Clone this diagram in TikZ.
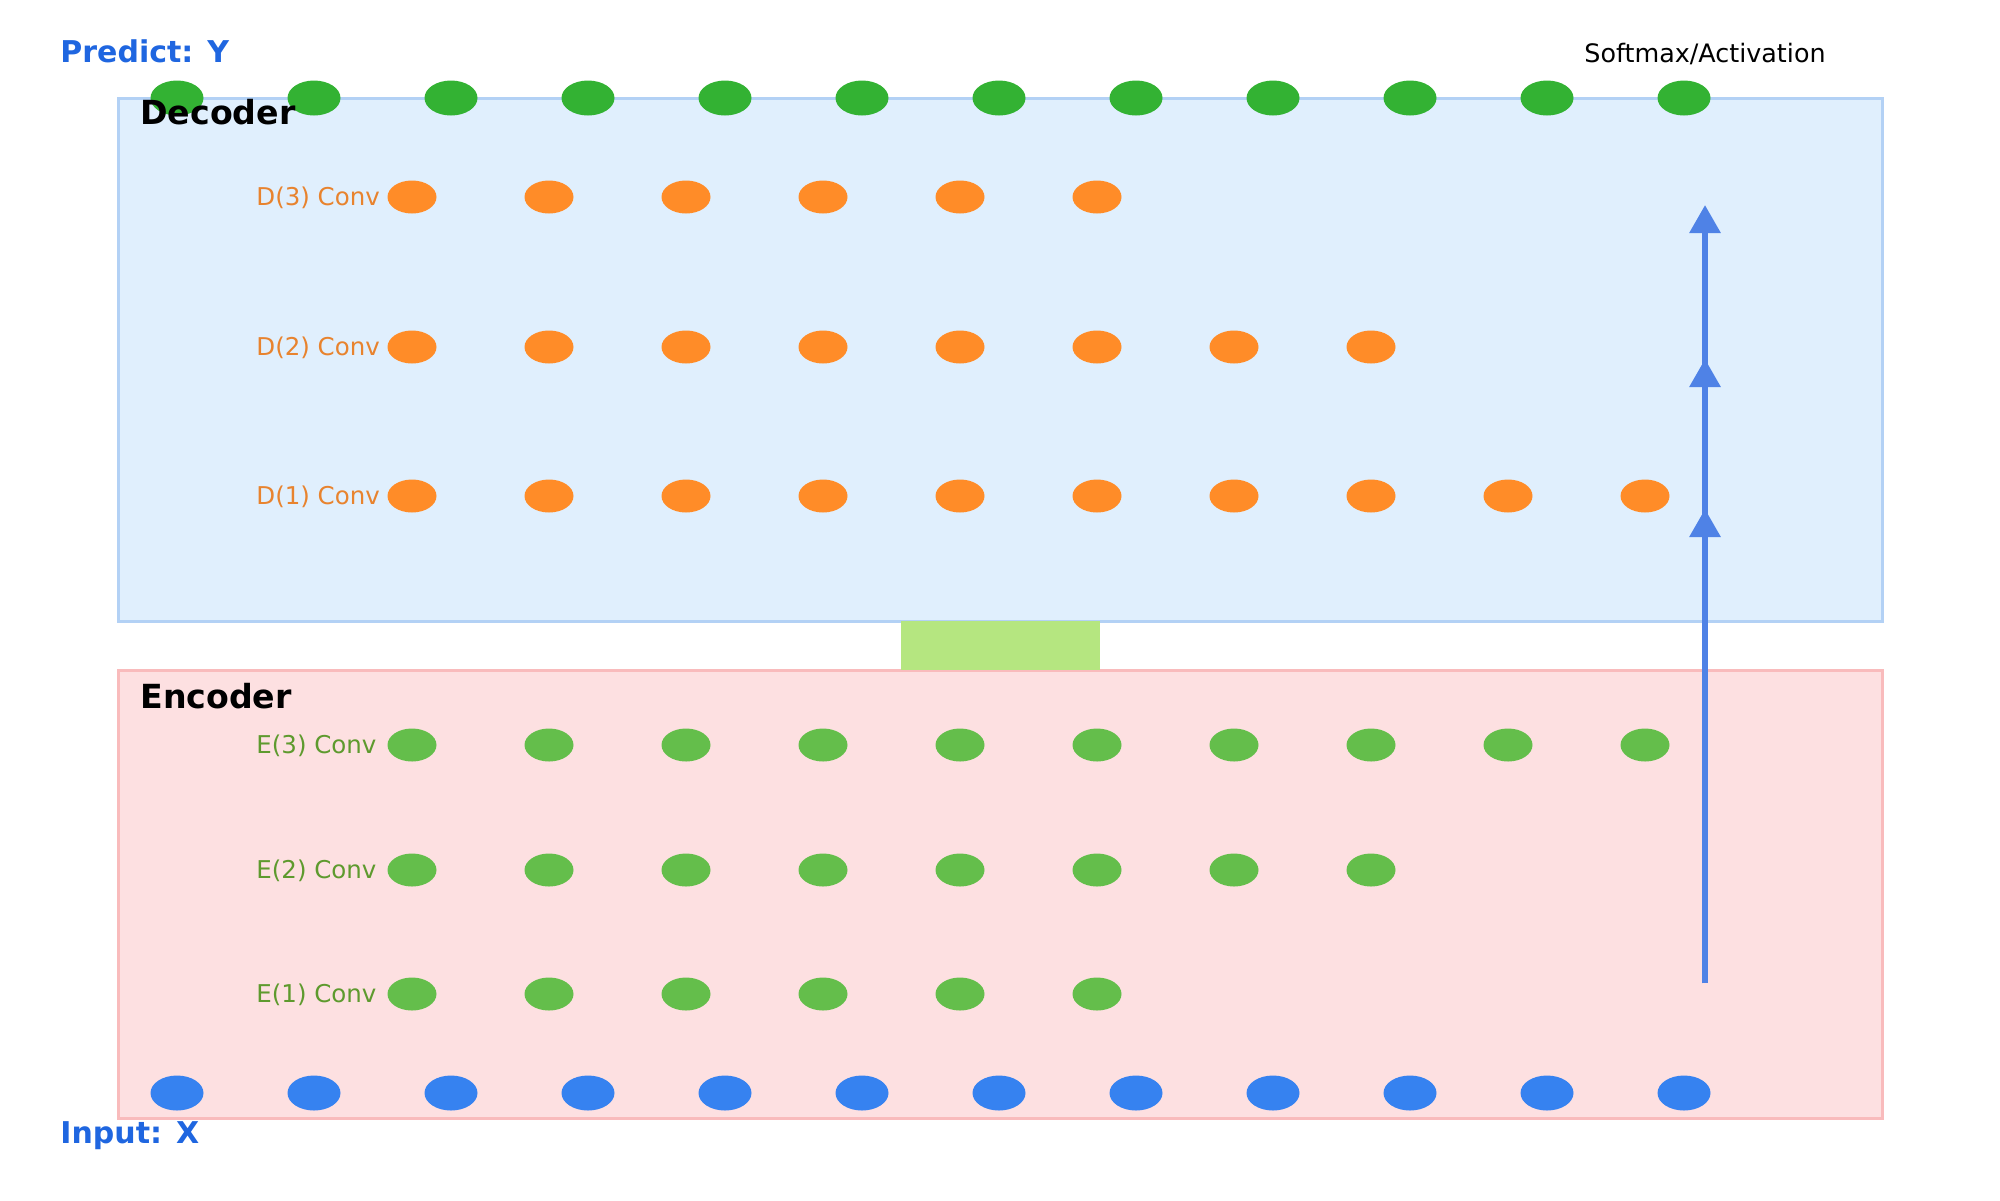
\documentclass[tikz,border=0pt]{standalone}
\usepackage{fontspec}
\setmainfont{DejaVu Sans}
\usetikzlibrary{shapes.geometric,arrows.meta}
\definecolor{decfill}{HTML}{E0EFFD}
\definecolor{decline}{HTML}{B3D1F5}
\definecolor{encfill}{HTML}{FDE0E1}
\definecolor{encline}{HTML}{F9BBBC}
\definecolor{bridge}{HTML}{B5E680}
\definecolor{topgreen}{HTML}{33B233}
\definecolor{inblue}{HTML}{3682F0}
\definecolor{dorange}{HTML}{FF8C28}
\definecolor{dlabel}{HTML}{E8832E}
\definecolor{egreen}{HTML}{64BE4B}
\definecolor{elabel}{HTML}{5E9A2E}
\definecolor{titleblue}{HTML}{1F66E0}
\definecolor{arrowblue}{HTML}{4F82E6}
\tikzset{
  bigdot/.style={ellipse,inner sep=0pt,minimum width=26.5pt,minimum height=17.5pt,draw=none},
  smalldot/.style={ellipse,inner sep=0pt,minimum width=24.5pt,minimum height=16.5pt,draw=none},
  rowlabel/.style={anchor=base west,inner sep=0pt,font=\fontsize{12.25pt}{14pt}\selectfont},
  sectitle/.style={anchor=base west,inner sep=0pt,font=\fontsize{16.6pt}{20pt}\selectfont\bfseries},
  iotitle/.style={anchor=base west,inner sep=0pt,text=titleblue,font=\fontsize{15pt}{18pt}\selectfont\bfseries},
  flow/.style={arrowblue,line width=3pt,-{Triangle[width=15pt,length=14pt]}}
}
\begin{document}
\begin{tikzpicture}[x=0.5pt,y=-0.5pt]
\useasboundingbox (0,0) rectangle (2000,1200);
% boxes
\filldraw[draw=decline,fill=decfill,line width=1.5pt] (118,98) rectangle (1882,621);
\filldraw[draw=encline,fill=encfill,line width=1.5pt] (118,670) rectangle (1882,1118);
\fill[bridge] (901,621) rectangle (1100,670);
% titles
\node[iotitle] (predict) at (60,62) {Predict: Y};
\node[iotitle] (input) at (60,1143) {Input: X};
\node[anchor=base,inner sep=0pt,font=\fontsize{12.7pt}{15pt}\selectfont] (softmax) at (1705,62) {Softmax/Activation};
% row labels
\node[rowlabel,text=dlabel] (ld3) at (256,205.5) {D(3) Conv};
\node[rowlabel,text=dlabel] (ld2) at (256,355.5) {D(2) Conv};
\node[rowlabel,text=dlabel] (ld1) at (256,504.5) {D(1) Conv};
\node[rowlabel,text=elabel] (le3) at (256,753.5) {E(3) Conv};
\node[rowlabel,text=elabel] (le2) at (256,878.5) {E(2) Conv};
\node[rowlabel,text=elabel] (le1) at (256,1002) {E(1) Conv};
% decoder dots
\foreach \i in {0,...,5} \node[smalldot,fill=dorange] (d3-\i) at (412+137*\i,197) {};
\foreach \i in {0,...,7} \node[smalldot,fill=dorange] (d2-\i) at (412+137*\i,347) {};
\foreach \i in {0,...,9} \node[smalldot,fill=dorange] (d1-\i) at (412+137*\i,496) {};
% encoder dots
\foreach \i in {0,...,9} \node[smalldot,fill=egreen] (e3-\i) at (412+137*\i,745) {};
\foreach \i in {0,...,7} \node[smalldot,fill=egreen] (e2-\i) at (412+137*\i,870) {};
\foreach \i in {0,...,5} \node[smalldot,fill=egreen] (e1-\i) at (412+137*\i,994) {};
% output / input dots
\foreach \i in {0,...,11} \node[bigdot,fill=topgreen] (y-\i) at (177+137*\i,98) {};
\foreach \i in {0,...,11} \node[bigdot,fill=inblue] (x-\i) at (177+137*\i,1093) {};
% section titles
\node[sectitle] (dectitle) at (140,124) {Decoder};
\node[sectitle] (enctitle) at (140,708) {Encoder};
% arrow
\coordinate (a0) at (1705,983);
\coordinate (a1) at (1705,509);
\coordinate (a2) at (1705,359);
\coordinate (a3) at (1705,205);
\draw[flow] (a0) -- (a3);
\draw[flow] (a0) -- (a2);
\draw[flow] (a0) -- (a1);
\end{tikzpicture}
\end{document}
